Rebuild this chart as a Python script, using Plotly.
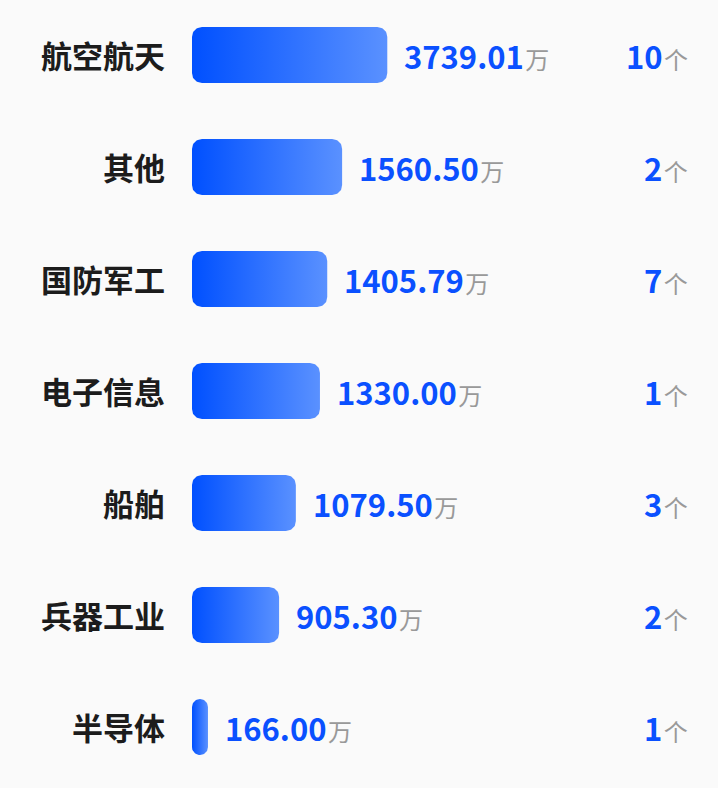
import numpy as np
import plotly.graph_objects as go

categories = ["航空航天", "其他", "国防军工", "电子信息", "船舶", "兵器工业", "半导体"]
amounts = [3739.01, 1560.50, 1405.79, 1330.00, 1079.50, 905.30, 166.00]
counts = [10, 2, 7, 1, 3, 2, 1]

W, H = 718, 788
LEFT = 192
ROW_PX = 112
FIRST_ROW_PX = 55
BAR_PX = 56
RADIUS_PX = 10
PX_PER_UNIT = 0.0962
BAR_CAP = 2030  # longest bar is cut at this value
FONT = "Noto Sans CJK SC"
BLUE = "#0A50FF"
GREY = "#999999"

x_max = (W - LEFT) / PX_PER_UNIT
y_top = -FIRST_ROW_PX / ROW_PX
y_bottom = (H - FIRST_ROW_PX) / ROW_PX


def rounded_bar(length, yc):
    """outline of a rounded bar from 0 to length, centred on row yc"""
    w_px = length * PX_PER_UNIT
    r = min(RADIUS_PX, w_px / 2, BAR_PX / 2)
    rx = r / PX_PER_UNIT
    ry = r / ROW_PX
    hh = BAR_PX / 2 / ROW_PX
    xs, ys = [], []
    # corners: (centre x, centre y, start angle)
    corners = [
        (length - rx, yc - hh + ry, -90),
        (length - rx, yc + hh - ry, 0),
        (rx, yc + hh - ry, 90),
        (rx, yc - hh + ry, 180),
    ]
    for cx, cy, a0 in corners:
        t = np.radians(np.linspace(a0, a0 + 90, 12))
        xs.extend(cx + rx * np.cos(t))
        ys.extend(cy + ry * np.sin(t))
    xs.append(xs[0])
    ys.append(ys[0])
    return xs, ys


unit_span = f"<span style='font-size:6px'> </span><span style='font-size:24px;color:{GREY}'>"

fig = go.Figure()
annotations = []
for i, (cat, amt, cnt) in enumerate(zip(categories, amounts, counts)):
    shown = min(amt, BAR_CAP)
    xs, ys = rounded_bar(shown, i)
    fig.add_trace(go.Scatter(
        x=xs, y=ys, mode="lines", fill="toself",
        line={"width": 0},
        fillgradient={"type": "horizontal",
                      "colorscale": [[0, "#0050FF"], [1, "#5A91FF"]]},
        hoverinfo="skip", showlegend=False,
    ))
    annotations.append(dict(
        x=0, y=i, xref="paper", yref="y", xanchor="right", yanchor="middle",
        xshift=-25, yshift=1, showarrow=False,
        text=f"<b>{cat}</b>", font={"size": 31, "color": "#1c1c1c", "family": FONT},
    ))
    annotations.append(dict(
        x=shown, y=i, xref="x", yref="y", xanchor="left", yanchor="middle",
        xshift=15, showarrow=False,
        text=f"<b>{amt:.2f}</b>{unit_span}万</span>",
        font={"size": 31, "color": BLUE, "family": FONT},
    ))
    annotations.append(dict(
        x=1, y=i, xref="paper", yref="y", xanchor="right", yanchor="middle",
        xshift=-28, showarrow=False,
        text=f"<b>{cnt}</b>{unit_span}个</span>",
        font={"size": 31, "color": BLUE, "family": FONT},
    ))

fig.update_layout(
    width=W, height=H,
    margin={"l": LEFT, "r": 0, "t": 0, "b": 0},
    paper_bgcolor="#FAFAFA", plot_bgcolor="#FAFAFA",
    xaxis={"range": [0, x_max], "visible": False, "fixedrange": True},
    yaxis={"range": [y_bottom, y_top], "visible": False, "fixedrange": True},
    annotations=annotations,
    font={"family": FONT},
)
fig.write_html("out.html", config={"displayModeBar": False},
               post_script="document.body.style.margin='0';")
